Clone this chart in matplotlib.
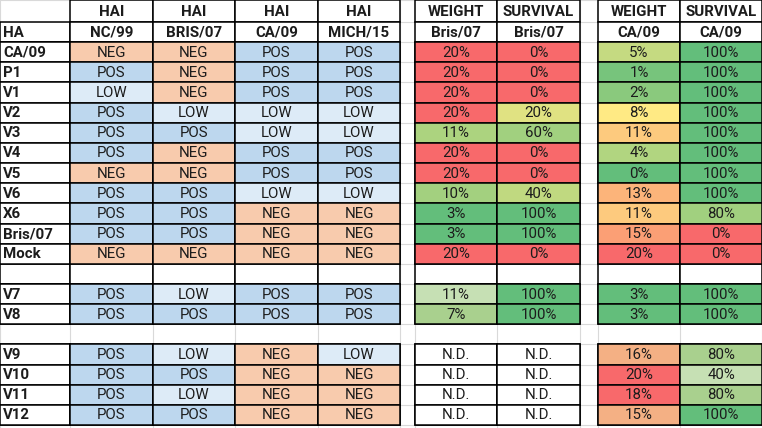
import numpy as np
import matplotlib
matplotlib.use('Agg')
import matplotlib.pyplot as plt
from matplotlib.patches import Rectangle
from matplotlib.colors import LinearSegmentedColormap, ListedColormap, BoundaryNorm

plt.rcParams['font.family'] = ['Roboto', 'DejaVu Sans']

# ---- data ----
group1 = ['CA/09', 'P1', 'V1', 'V2', 'V3', 'V4', 'V5', 'V6', 'X6', 'Bris/07', 'Mock']
group2 = ['V7', 'V8']
group3 = ['V9', 'V10', 'V11', 'V12']
row_labels = group1 + group2 + group3

hai_strains = ['NC/99', 'BRIS/07', 'CA/09', 'MICH/15']
hai_nc99 = ['NEG', 'POS', 'LOW', 'POS', 'POS', 'POS', 'NEG', 'POS', 'POS', 'POS', 'NEG',
            'POS', 'POS', 'POS', 'POS', 'POS', 'POS']
hai_bris07 = ['NEG', 'NEG', 'NEG', 'LOW', 'POS', 'NEG', 'NEG', 'POS', 'POS', 'POS', 'NEG',
              'LOW', 'POS', 'LOW', 'POS', 'LOW', 'POS']
hai_ca09 = ['POS', 'POS', 'POS', 'LOW', 'LOW', 'POS', 'POS', 'LOW', 'NEG', 'NEG', 'NEG',
            'POS', 'POS', 'NEG', 'NEG', 'NEG', 'NEG']
hai_mich15 = ['POS', 'POS', 'POS', 'LOW', 'LOW', 'POS', 'POS', 'LOW', 'NEG', 'NEG', 'NEG',
              'POS', 'POS', 'LOW', 'NEG', 'NEG', 'NEG']

# percent; None = N.D.
weight_bris07 = [20, 20, 20, 20, 11, 20, 20, 10, 3, 3, 20, 11, 7, None, None, None, None]
survival_bris07 = [0, 0, 0, 20, 60, 0, 0, 40, 100, 100, 0, 100, 100, None, None, None, None]
weight_ca09 = [5, 1, 2, 8, 11, 4, 0, 13, 11, 15, 20, 3, 3, 16, 20, 18, 15]
survival_ca09 = [100, 100, 100, 100, 100, 100, 100, 100, 80, 0, 0, 100, 100, 80, 40, 80, 100]

# ---- layout ----
col_edges = [0, 70, 153, 235, 318, 400, 415, 497, 580, 598, 680, 762]
def row_y(r):
    return 0 if r == 0 else 22 + (r - 1) * 20.15

# sheet rows: 0-1 header, 2-12 group1, 13 blank, 14-15 group2, 16 gap, 17-20 group3
data_rows = list(range(2, 13)) + [14, 15] + list(range(17, 21))
boxed_rows = list(range(0, 16)) + list(range(17, 21))
n_g1 = len(group1)

hai_colors = {'POS': '#BDD7EE', 'LOW': '#DDEBF7', 'NEG': '#F8CBAD'}
txt = '#1c1c1c'
grid = '#D9D9D9'

scale = LinearSegmentedColormap.from_list('excel', ['#63BE7B', '#FFEB84', '#F8696B'])
w_bands = ListedColormap(['#63BE7B', '#A9D08E', '#C6E0B4', '#F4B084', '#F8696B'])
w_norm = BoundaryNorm([0, 5, 10, 15, 18, 101], w_bands.N)
s_bands = ListedColormap(['#F8696B', '#C6E0B4', '#A9D08E', '#63BE7B'])
s_norm = BoundaryNorm([0, 30, 60, 90, 101], s_bands.N)

def pos3(v, lo, mid, hi):
    if v <= lo:
        return 0.0
    if v >= hi:
        return 1.0
    if v <= mid:
        return 0.5 * (v - lo) / (mid - lo)
    return 0.5 + 0.5 * (v - mid) / (hi - mid)

fig = plt.figure(figsize=(7.62, 4.28), dpi=100)
ax = fig.add_axes([0, 0, 1, 1])
ax.set_xlim(0, 762)
ax.set_ylim(428, 0)
ax.axis('off')

# excel gridlines
for x in col_edges:
    ax.plot([x, x], [0, 428], color=grid, lw=0.8, zorder=1)
for r in range(0, 23):
    y = row_y(r)
    ax.plot([0, 762], [y, y], color=grid, lw=0.8, zorder=1)

def cell(c, r, fill='white', text=None, bold=False, ha='center'):
    x0, x1 = col_edges[c], col_edges[c + 1]
    y0, y1 = row_y(r), row_y(r + 1)
    ax.add_patch(Rectangle((x0, y0), x1 - x0, y1 - y0, facecolor=fill,
                           edgecolor='black', lw=1.1, zorder=2))
    if text is not None:
        tx = x0 + 3 if ha == 'left' else (x0 + x1) / 2
        ax.text(tx, (y0 + y1) / 2 + 0.5, text, ha=ha, va='center', fontsize=10.8,
                color=txt, fontweight='bold' if bold else 'normal', zorder=3)

# label column
cell(0, 1, text='HA', bold=True, ha='left')
for r in range(2, 16):
    cell(0, r)
for r in range(17, 21):
    cell(0, r)
for r, lab in zip(data_rows, row_labels):
    cell(0, r, text=lab, bold=True, ha='left')

# HAI block
for j, (strain, vals) in enumerate(zip(hai_strains, [hai_nc99, hai_bris07, hai_ca09, hai_mich15])):
    c = 1 + j
    cell(c, 0, text='HAI', bold=True)
    cell(c, 1, text=strain, bold=True)
    for r in boxed_rows[2:]:
        cell(c, r)
    for r, v in zip(data_rows, vals):
        cell(c, r, fill=hai_colors[v], text=v)

# challenge blocks
blocks = [
    (6, 'WEIGHT', 'Bris/07', weight_bris07, 'w', 'median'),
    (7, 'SURVIVAL', 'Bris/07', survival_bris07, 's', 'median'),
    (9, 'WEIGHT', 'CA/09', weight_ca09, 'w', 'median'),
    (10, 'SURVIVAL', 'CA/09', survival_ca09, 's', 50),
]
for c, head, strain, vals, kind, mid in blocks:
    cell(c, 0, text=head, bold=True)
    cell(c, 1, text=strain, bold=True)
    for r in boxed_rows[2:]:
        cell(c, r)
    main = np.array(vals[:n_g1], dtype=float)
    lo, hi = main.min(), main.max()
    m = np.median(main) if mid == 'median' else mid
    cmap = scale if kind == 'w' else scale.reversed()
    for i, (r, v) in enumerate(zip(data_rows, vals)):
        if v is None:
            cell(c, r, text='N.D.')
            continue
        if i < n_g1:
            fill = cmap(pos3(v, lo, m, hi))
        elif kind == 'w':
            fill = w_bands(w_norm(v))
        else:
            fill = s_bands(s_norm(v))
        cell(c, r, fill=fill, text=f'{v}%')

fig.savefig('out.png', dpi=100)
